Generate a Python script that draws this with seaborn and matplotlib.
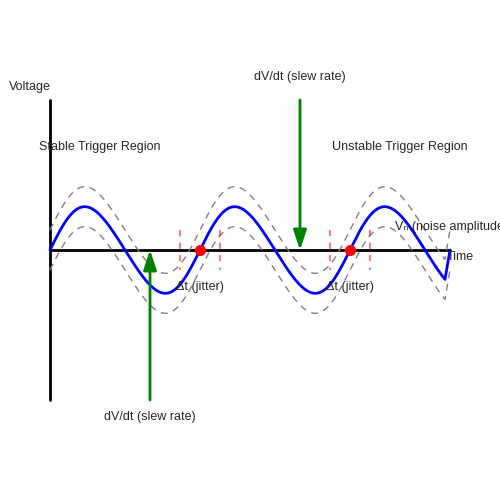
import numpy as np
import matplotlib
matplotlib.use("Agg")
import matplotlib.pyplot as plt
import seaborn as sns
import pandas as pd

sns.set_style("white")
plt.rcParams['font.family'] = ['Liberation Sans', 'DejaVu Sans']

# diagram parameters (pixel-like units)
x_start, x_end = 50, 450
baseline = 250
period = 150
amplitude = 43
noise_band = 20
crossings = [200, 350]
jitter_half = 20

x = np.linspace(x_start, x_end - 5, 800)
theta = 2 * np.pi * (x - x_start) / period
wave = baseline - amplitude * (np.sin(theta) + 0.06 * np.sin(2 * theta))
x = np.append(x, x_end)
wave = np.append(wave, baseline)
df = pd.DataFrame({"x": x, "y": wave})

fig = plt.figure(figsize=(5, 5), dpi=100)
ax = fig.add_axes([0, 0, 1, 1])
ax.set_xlim(0, 500)
ax.set_ylim(500, 0)
ax.axis("off")

ax.plot([50, 50], [100, 400], color="black", lw=2)
ax.plot([50, 450], [250, 250], color="black", lw=2)

sns.lineplot(data=df, x="x", y="y", ax=ax, color="blue", lw=2, zorder=3)
ax.plot(x, wave - noise_band, color="gray", ls=(0, (5, 4)), lw=1)
ax.plot(x, wave + noise_band, color="gray", ls=(0, (5, 4)), lw=1)

for c in crossings:
    ax.plot([c], [baseline], "o", color="red", ms=7, zorder=4)
    for dx in (-jitter_half, jitter_half):
        ax.plot([c + dx, c + dx], [230, 270], color="red", ls=(0, (3, 3)), lw=1.5, alpha=0.5)
    ax.text(c, 290, "Δt (jitter)", ha="center", fontsize=9)

ax.annotate("", xy=(150, 250), xytext=(150, 400),
            arrowprops=dict(arrowstyle="-|>,head_width=0.4,head_length=1.2", color="green", lw=2,
                            shrinkA=0, shrinkB=0))
ax.annotate("", xy=(300, 250), xytext=(300, 100),
            arrowprops=dict(arrowstyle="-|>,head_width=0.4,head_length=1.2", color="green", lw=2,
                            shrinkA=0, shrinkB=0))

ax.text(150, 420, "dV/dt (slew rate)", ha="center", fontsize=9)
ax.text(300, 80, "dV/dt (slew rate)", ha="center", fontsize=9)
ax.text(30, 90, "Voltage", ha="center", fontsize=9)
ax.text(447, 260, "Time", ha="left", fontsize=9)
ax.text(100, 150, "Stable Trigger Region", ha="center", fontsize=9)
ax.text(400, 150, "Unstable Trigger Region", ha="center", fontsize=9)
ax.text(395, 230, "Vₙ (noise amplitude)", ha="left", fontsize=9)

fig.savefig("out.png", dpi=100)
